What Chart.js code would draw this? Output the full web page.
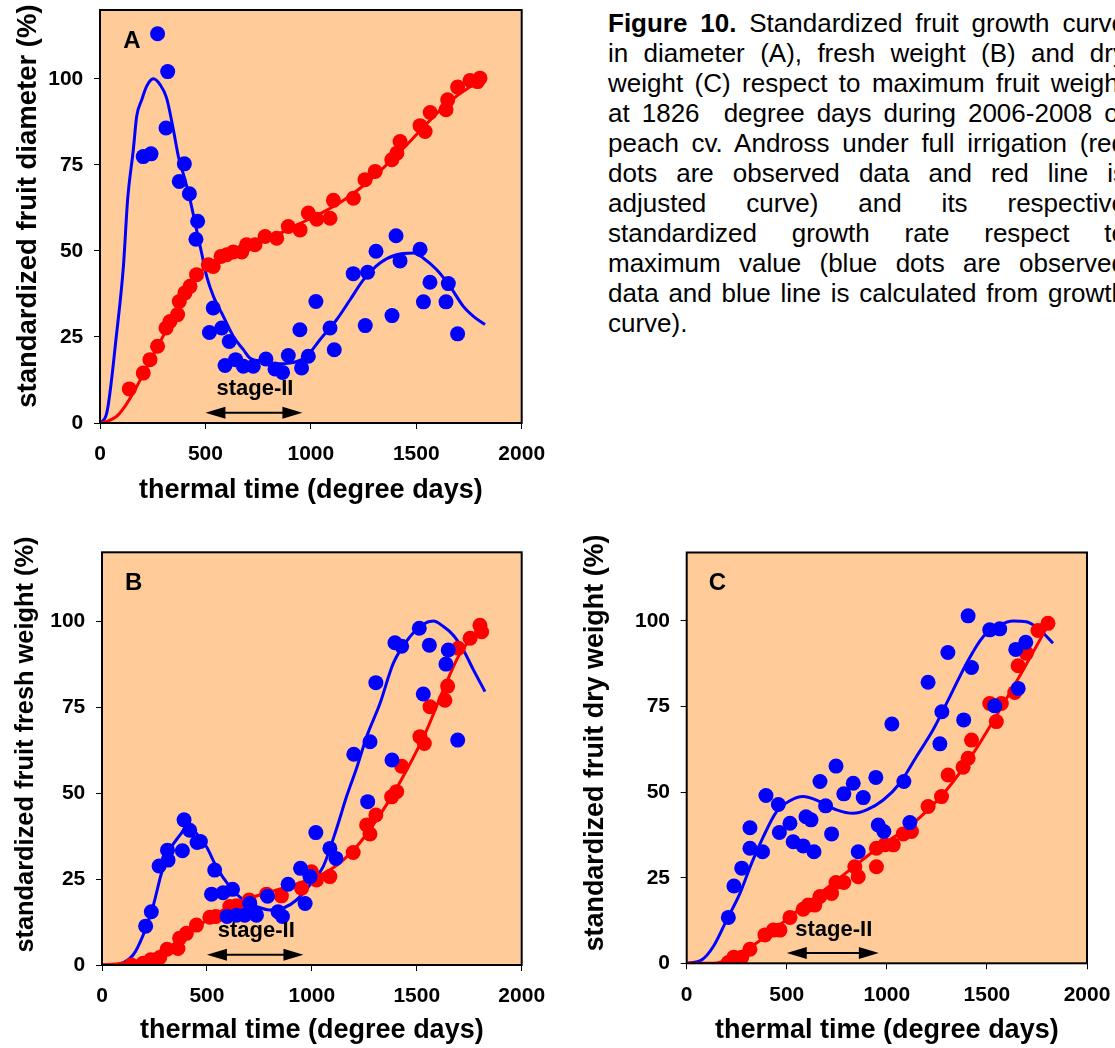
<!DOCTYPE html>
<html>
<head>
<meta charset="utf-8">
<script src="https://cdn.jsdelivr.net/npm/chart.js@4.4.1/dist/chart.umd.min.js"></script>
<style>
  html, body { margin: 0; padding: 0; background: #fff; overflow: hidden; width: 1115px; height: 1048px; }
  canvas { position: absolute; }
  #caption { position: absolute; left: 608px; top: 8px; width: 518px; font: 26px/30px "Liberation Sans", Arial, sans-serif; color: #000; }
  #caption div { text-align: justify; text-align-last: justify; }
  #caption div.last { text-align-last: left; }
</style>
</head>
<body>
<canvas id="chartA" width="560" height="520" style="left:0;top:0;"></canvas>
<canvas id="chartB" width="560" height="518" style="left:0;top:530px;"></canvas>
<canvas id="chartC" width="555" height="518" style="left:560px;top:530px;"></canvas>

<div id="caption">
  <div><b>Figure 10.</b> Standardized fruit growth curve</div>
  <div>in diameter (A), fresh weight (B) and dry</div>
  <div>weight (C) respect to maximum fruit weight</div>
  <div>at 1826&nbsp; degree days during 2006-2008 of</div>
  <div>peach cv. Andross under full irrigation (red</div>
  <div>dots are observed data and red line is</div>
  <div>adjusted curve) and its respective</div>
  <div>standardized growth rate respect to</div>
  <div>maximum value (blue dots are observed</div>
  <div>data and blue line is calculated from growth</div>
  <div class="last">curve).</div>
</div>

<script>
const xTicks = [0, 500, 1000, 1500, 2000];
const yTicks = [0, 25, 50, 75, 100];

// A - diameter: red = observed growth, blue = growth rate
const aGrowX = [139, 205, 237, 273, 313, 332, 368, 376, 403, 427, 458, 514, 537, 574, 601, 632, 672, 695, 735, 783, 838, 893, 949, 988, 1028, 1091, 1107, 1202, 1257, 1305, 1384, 1408, 1423, 1518, 1542, 1566, 1641, 1649, 1696, 1755, 1791, 1802];
const aGrowY = [9.9, 14.5, 18.4, 22.3, 27.6, 29.5, 31.5, 35.3, 37.8, 39.7, 43.1, 46, 45.5, 48.4, 48.9, 49.7, 49.7, 51.8, 51.8, 54.2, 53.7, 57.1, 56.1, 61, 59.2, 59.5, 64.7, 65.3, 70.7, 73.1, 76.5, 78.4, 81.8, 86.4, 84.7, 90.2, 91, 93.9, 97.6, 99.5, 99.2, 100.2];
const aGrowFitX = [0, 40, 80, 120, 160, 220, 280, 340, 400, 450, 500, 560, 650, 750, 850, 950, 1050, 1150, 1250, 1350, 1450, 1550, 1650, 1750, 1826];
const aGrowFitY = [0, 0.6, 2, 5, 9, 16, 23, 30, 37, 42, 45.3, 47.8, 50, 52.5, 55, 58, 61, 64.5, 69, 74.5, 80.5, 87, 93, 97.5, 100];
const aRateX = [205, 242, 273, 313, 321, 376, 400, 424, 455, 463, 519, 537, 577, 593, 613, 643, 680, 727, 787, 830, 866, 893, 948, 956, 988, 1024, 1091, 1111, 1201, 1258, 1269, 1309, 1385, 1404, 1423, 1518, 1534, 1565, 1641, 1652, 1696];
const aRateY = [77.4, 78.2, 113.1, 85.7, 102.1, 70.2, 75.3, 66.6, 53.4, 58.6, 26.3, 33.4, 27.6, 16.7, 23.7, 18.4, 16.5, 16.5, 18.6, 15.7, 14.7, 19.6, 27.1, 16.0, 19.4, 35.3, 27.6, 21.3, 43.4, 28.3, 43.8, 49.9, 31.2, 54.4, 47.1, 50.5, 35.2, 40.9, 35.2, 40.5, 25.9];
const aRateFitX = [0, 32, 79, 111, 131, 158, 174, 198, 221, 253, 285, 316, 348, 372, 403, 427, 458, 482, 506, 538, 585, 632, 680, 711, 775, 838, 901, 980, 1043, 1122, 1186, 1249, 1328, 1407, 1486, 1534, 1597, 1660, 1723, 1771, 1826];
const aRateFitY = [0, 2.9, 26.1, 45.5, 64.9, 79.4, 89.1, 93.9, 97.8, 100, 98.3, 94.4, 85.2, 77.4, 70.7, 64.9, 56.1, 49.4, 42.6, 36.8, 31, 25.2, 21.3, 18.9, 17.9, 17.2, 17.4, 19.4, 24.2, 30, 35.8, 41.6, 46.5, 48.9, 49.4, 47.9, 44.5, 39.7, 33.9, 31, 28.6];

// B - fresh weight
const bGrowX = [140, 196, 232, 275, 310, 362, 370, 402, 450, 514, 542, 609, 641, 701, 784, 855, 951, 998, 1022, 1086, 1197, 1261, 1277, 1305, 1380, 1404, 1428, 1515, 1536, 1563, 1634, 1647, 1698, 1754, 1801, 1809];
const bGrowY = [0, 0.5, 1.5, 2.2, 4.6, 4.8, 7.8, 9.2, 11.6, 13.9, 14.1, 17, 17.2, 18.9, 20.6, 20.1, 22.3, 27.1, 24.7, 25.7, 32.7, 40.7, 38.1, 43.6, 48.9, 50.4, 57.8, 66.4, 64.4, 75.1, 77, 81.1, 92.1, 95, 98.8, 96.9];
const bGrowFitX = [0, 100, 259, 370, 466, 577, 704, 832, 959, 1086, 1213, 1340, 1452, 1547, 1626, 1706, 1786, 1825];
const bGrowFitY = [0, 0.5, 2.9, 7.3, 11.6, 16, 19.4, 21.8, 24.2, 27.6, 34.4, 45.1, 56.7, 68.3, 79.9, 90.6, 96.4, 97.9];
const bRateX = [208, 235, 272, 312, 315, 383, 391, 418, 453, 469, 522, 537, 577, 596, 622, 641, 680, 704, 736, 789, 839, 860, 887, 946, 968, 991, 1019, 1086, 1115, 1200, 1266, 1277, 1305, 1382, 1396, 1428, 1512, 1531, 1560, 1639, 1650, 1695];
const bRateY = [11.3, 15.5, 28.8, 33.4, 30.5, 33.2, 42.2, 39.2, 35.6, 35.9, 20.6, 27.6, 21, 14.1, 22, 14.5, 14.5, 17.9, 14.5, 20, 15.5, 14.1, 23.5, 28.1, 17.9, 25.7, 38.5, 33.9, 31, 61.3, 47.5, 64.9, 82.1, 59.6, 93.7, 92.7, 97.9, 78.8, 93, 87.5, 91.6, 65.4];
const bRateFitX = [0, 52, 148, 196, 243, 283, 323, 378, 402, 450, 498, 545, 609, 673, 736, 800, 863, 927, 991, 1054, 1118, 1165, 1213, 1261, 1325, 1388, 1467, 1531, 1579, 1627, 1674, 1722, 1770, 1825];
const bRateFitY = [0, 0, 2.9, 8.7, 17, 26.6, 33.4, 38.3, 40.2, 38.3, 34.4, 28.6, 22.8, 18.9, 17, 16, 16.5, 18.9, 23.3, 28.6, 39.7, 48.9, 57.2, 66.4, 76.1, 87.7, 95.4, 99.1, 100, 98.4, 95.9, 91.6, 85.8, 79.5];

// C - dry weight
const cGrowX = [208, 236, 275, 316, 391, 433, 466, 516, 582, 607, 640, 666, 724, 746, 785, 840, 857, 948, 948, 990, 1032, 1082, 1123, 1206, 1273, 1306, 1381, 1406, 1423, 1514, 1547, 1572, 1639, 1656, 1697, 1755, 1805];
const cGrowY = [0.2, 1.8, 1.8, 4.1, 8.3, 9.7, 9.7, 13.4, 15.8, 17, 17, 19.5, 20.4, 23.6, 23.6, 28.2, 25.3, 28.2, 33.6, 34.6, 34.6, 37.8, 38.5, 45.8, 48.7, 55, 57.3, 59.9, 65.2, 75.9, 70.6, 75.9, 79.1, 86.9, 90.6, 97.2, 99.3];
const cGrowFitX = [0, 133, 233, 383, 516, 666, 815, 965, 1132, 1298, 1431, 1564, 1681, 1764, 1805];
const cGrowFitY = [0, 0, 1.8, 7.3, 13.6, 20.4, 27.3, 34.1, 40.9, 50.6, 61.3, 74, 85.7, 94.4, 98.8];
const cRateX = [208, 236, 275, 316, 316, 379, 396, 458, 463, 516, 532, 582, 596, 621, 636, 666, 694, 724, 746, 785, 832, 857, 882, 945, 957, 985, 1025, 1085, 1115, 1206, 1265, 1275, 1305, 1384, 1406, 1423, 1514, 1539, 1564, 1644, 1656, 1694];
const cRateY = [13.4, 22.6, 27.8, 33.6, 39.6, 32.6, 49, 46.4, 38.2, 40.9, 35.5, 34.3, 42.8, 41.9, 32.6, 53.1, 46, 37.8, 57.6, 49.5, 52.6, 32.6, 48.4, 54.3, 40.4, 38.5, 69.9, 53.1, 41.1, 82.1, 64.1, 73.5, 90.8, 71.1, 101.5, 86.4, 97.4, 75.2, 97.7, 91.7, 80.3, 93.8];
const cRateFitX = [0, 75, 133, 200, 266, 324, 383, 449, 516, 582, 666, 749, 832, 899, 982, 1065, 1148, 1231, 1315, 1398, 1481, 1564, 1631, 1697, 1764, 1830];
const cRateFitY = [0, 1, 4.9, 12.7, 20.4, 29.2, 37, 44.3, 47.5, 48.7, 47.2, 44.8, 43.8, 44.8, 47.7, 52.6, 60.4, 68.2, 77.9, 87.6, 95.4, 98.8, 100, 99.8, 97.4, 93.5];

// annotations (data units)
const letterAt = [110, 109];
const stageRange = [500, 960];
const stageArrowY = 3;
const stageLabelAt = [735, 8];

const FONT = '"Liberation Sans", Arial, Helvetica, sans-serif';
const RED = '#ff0000';
const BLUE = '#0000ff';
const PEACH = '#ffcc99';

Chart.defaults.font.family = FONT;
Chart.defaults.color = '#000';

const pts = (xs, ys) => xs.map((x, i) => ({ x, y: ys[i] }));

const panelDecor = {
  id: 'panelDecor',
  beforeDraw(chart) {
    const { ctx, chartArea: a } = chart;
    ctx.save();
    ctx.fillStyle = PEACH;
    ctx.fillRect(a.left, a.top, a.right - a.left, a.bottom - a.top);
    ctx.restore();
  },
  afterDraw(chart, args, o) {
    const { ctx, chartArea: a, scales: { x, y } } = chart;
    ctx.save();
    ctx.strokeStyle = '#000';
    ctx.lineWidth = 2;
    ctx.strokeRect(a.left, a.top, a.right - a.left, a.bottom - a.top);

    ctx.fillStyle = '#000';
    ctx.font = `bold 24px ${FONT}`;
    ctx.textAlign = 'left';
    ctx.textBaseline = 'alphabetic';
    ctx.fillText(o.letter, x.getPixelForValue(letterAt[0]), y.getPixelForValue(letterAt[1]));

    ctx.font = `bold 22px ${FONT}`;
    ctx.textAlign = 'center';
    ctx.fillText('stage-II', x.getPixelForValue(stageLabelAt[0]), y.getPixelForValue(stageLabelAt[1]));

    // double-headed arrow over stage II
    const x0 = x.getPixelForValue(stageRange[0]);
    const x1 = x.getPixelForValue(stageRange[1]);
    const ya = y.getPixelForValue(stageArrowY);
    const head = 20, half = 6;
    ctx.lineWidth = 2;
    ctx.beginPath();
    ctx.moveTo(x0 + head - 2, ya);
    ctx.lineTo(x1 - head + 2, ya);
    ctx.stroke();
    ctx.beginPath();
    ctx.moveTo(x0, ya); ctx.lineTo(x0 + head, ya - half); ctx.lineTo(x0 + head, ya + half); ctx.closePath();
    ctx.moveTo(x1, ya); ctx.lineTo(x1 - head, ya - half); ctx.lineTo(x1 - head, ya + half); ctx.closePath();
    ctx.fill();
    ctx.restore();
  }
};

function makePanel(id, p) {
  const dots = (xs, ys, color) => ({
    data: pts(xs, ys),
    pointRadius: 7.5,
    pointBackgroundColor: color,
    pointBorderWidth: 0,
    showLine: false
  });
  const fit = (xs, ys, color) => ({
    data: pts(xs, ys),
    showLine: true,
    borderColor: color,
    borderWidth: 3,
    pointRadius: 0,
    cubicInterpolationMode: 'monotone'
  });

  return new Chart(document.getElementById(id), {
    type: 'scatter',
    data: {
      datasets: [
        dots(p.rateX, p.rateY, BLUE),
        dots(p.growX, p.growY, RED),
        fit(p.growFitX, p.growFitY, RED),
        fit(p.rateFitX, p.rateFitY, BLUE)
      ]
    },
    options: {
      responsive: false,
      animation: false,
      events: [],
      layout: { padding: { top: p.top, right: p.right, left: 0, bottom: 0 } },
      plugins: {
        legend: { display: false },
        tooltip: { enabled: false },
        panelDecor: { letter: p.letter }
      },
      scales: {
        x: {
          type: 'linear',
          min: 0,
          max: 2000,
          afterBuildTicks: s => { s.ticks = xTicks.map(v => ({ value: v })); },
          afterFit: s => { s.height = p.xHeight; s.paddingLeft = 0; s.paddingRight = 0; },
          ticks: { padding: 13, font: { size: 21, weight: 'bold' }, color: '#000', callback: v => String(v) },
          grid: { drawOnChartArea: false, tickLength: 6, tickColor: '#000', tickWidth: 1 },
          border: { display: false },
          title: {
            display: true,
            text: 'thermal time (degree days)',
            font: { size: 27, weight: 'bold' },
            padding: { top: 0, bottom: p.xTitlePad },
            color: '#000'
          }
        },
        y: {
          min: 0,
          max: 120,
          afterBuildTicks: s => { s.ticks = yTicks.map(v => ({ value: v })); },
          afterFit: s => { s.width = p.yWidth; s.paddingTop = 0; s.paddingBottom = 0; },
          ticks: { padding: 10.7, font: { size: 21, weight: 'bold' }, color: '#000', callback: v => String(v) },
          grid: { drawOnChartArea: false, tickLength: 6, tickColor: '#000', tickWidth: 1 },
          border: { display: false },
          title: {
            display: true,
            text: p.yTitle,
            font: { size: p.yTitleSize, weight: 'bold' },
            padding: { top: p.yTitlePad, bottom: 0 },
            color: '#000'
          }
        }
      }
    },
    plugins: [panelDecor]
  });
}

makePanel('chartA', {
  letter: 'A',
  yTitle: '\u00a0\u00a0\u2009standardized fruit diameter (%)',
  yTitleSize: 27.5,
  growX: aGrowX, growY: aGrowY, growFitX: aGrowFitX, growFitY: aGrowFitY,
  rateX: aRateX, rateY: aRateY, rateFitX: aRateFitX, rateFitY: aRateFitY,
  top: 10, right: 38.3, yWidth: 100, xHeight: 97, xTitlePad: 12.8, yTitlePad: 11.5
});

makePanel('chartB', {
  letter: 'B',
  yTitle: '\u00a0\u00a0\u00a0\u00a0standardized fruit fresh weight (%)',
  yTitleSize: 25.4,
  growX: bGrowX, growY: bGrowY, growFitX: bGrowFitX, growFitY: bGrowFitY,
  rateX: bRateX, rateY: bRateY, rateFitX: bRateFitX, rateFitY: bRateFitY,
  top: 22.3, right: 38.3, yWidth: 102, xHeight: 83, xTitlePad: 1.3, yTitlePad: 10.5
});

makePanel('chartC', {
  letter: 'C',
  yTitle: '\u00a0\u00a0\u00a0\u00a0standardized fruit dry weight (%)',
  yTitleSize: 26.9,
  growX: cGrowX, growY: cGrowY, growFitX: cGrowFitX, growFitY: cGrowFitY,
  rateX: cRateX, rateY: cRateY, rateFitX: cRateFitX, rateFitY: cRateFitY,
  top: 22.5, right: 28, yWidth: 126.7, xHeight: 84.7, xTitlePad: 1.3, yTitlePad: 19.9
});
</script>
</body>
</html>
